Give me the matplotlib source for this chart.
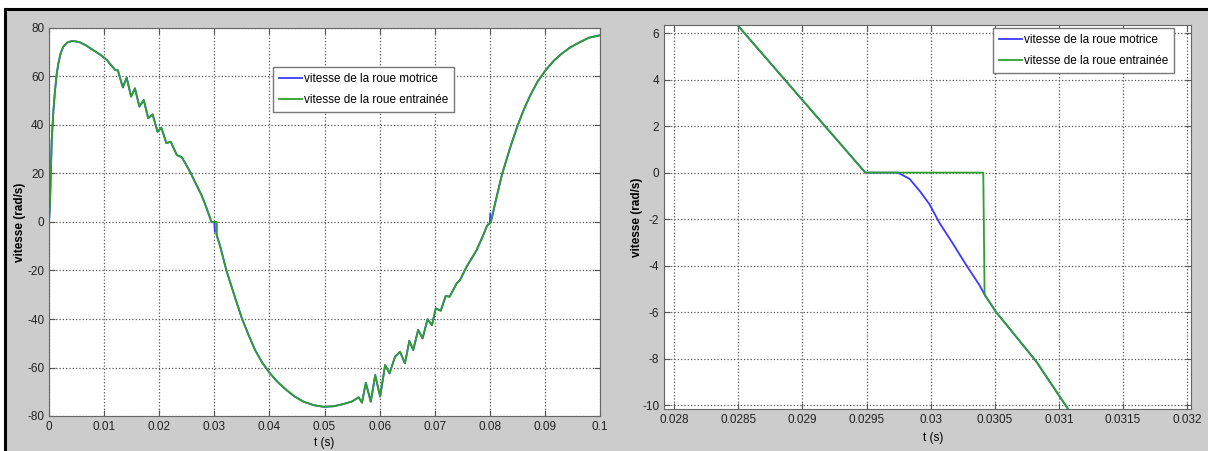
import numpy as np
import matplotlib
matplotlib.use("Agg")
import matplotlib.pyplot as plt
from matplotlib.patches import Rectangle
from matplotlib.ticker import FuncFormatter

plt.rcParams['font.family'] = ['Liberation Sans', 'DejaVu Sans']
fs = 8.5

# left panel: full run, driven wheel (green)
t_driven = [0, 0.0002, 0.0005, 0.0008, 0.0011, 0.0014, 0.0017, 0.0021, 0.0026,
            0.0033, 0.0041, 0.0048, 0.0056, 0.0068, 0.008, 0.0093, 0.0105,
            0.012, 0.0125, 0.0134, 0.0141, 0.0149, 0.0156, 0.0164,
            0.0172, 0.018, 0.0188, 0.0197, 0.0204, 0.0213, 0.0221, 0.0232,
            0.0241, 0.0248, 0.0256, 0.0266, 0.0277, 0.0285, 0.02949, 0.0304,
            0.03042, 0.0311, 0.0322, 0.0336, 0.035, 0.0362, 0.0374, 0.0387,
            0.0401, 0.0415, 0.0431, 0.0446, 0.0462, 0.048, 0.0498, 0.0516,
            0.0534, 0.055, 0.0562, 0.0568, 0.0575, 0.0584, 0.0592, 0.0601,
            0.061, 0.0618, 0.0628, 0.0637, 0.0646, 0.0654, 0.0661, 0.067,
            0.0678, 0.0687, 0.0695, 0.0702, 0.0711, 0.072, 0.0727, 0.074,
            0.0746, 0.0758, 0.0767, 0.0776, 0.0788, 0.0795, 0.0802, 0.0811,
            0.0822, 0.0836, 0.085, 0.0862, 0.0874, 0.0887, 0.0901, 0.0916,
            0.0931, 0.0946, 0.0962, 0.098, 0.1]
v_driven = [0, 9.1, 33.8, 46.0, 54.4, 61.0, 65.4, 69.5, 72.3,
            74.0, 74.6, 74.5, 74.1, 72.7, 70.9, 69.0, 66.8,
            62.7, 62.5, 55.5, 59.5, 51.7, 55.1, 47.6,
            50.3, 42.8, 44.4, 37.2, 38.9, 32.5, 33.1, 27.6,
            26.7, 24.0, 20.7, 16.0, 11.0, 6.3, 0, 0,
            -5.3, -10.3, -20.0, -30.0, -39.7, -46.5, -52.8, -58.0,
            -62.4, -66.0, -69.3, -72.0, -74.1, -75.5, -76.2, -76.0,
            -75.1, -74.0, -72.3, -74.5, -66.3, -74.1, -63.1, -72.0,
            -59.0, -62.4, -55.6, -53.5, -58.3, -49.0, -52.8, -44.5,
            -48.0, -40.1, -42.5, -35.6, -36.6, -30.5, -30.8, -25.3,
            -23.9, -18.4, -15.0, -11.6, -5.5, -1.5, 0, 9.0,
            19.5, 30.0, 39.5, 46.5, 52.5, 58.0, 62.5, 66.5,
            69.5, 72.0, 74.0, 76.0, 77.0]

# small blue segments that stick out of the green curve
spike_t = [[0, 0.0001], [0.0300, 0.0301], [0.0800, 0.0801]]
spike_v = [[0, 8.0], [0, -4.0], [0, 3.5]]

# right panel: zoom around the first zero crossing
t_motor_zoom = [0.0285, 0.02949, 0.029744, 0.029835, 0.029913, 0.02999,
                0.030068, 0.03017, 0.030276, 0.03038, 0.030426, 0.03051,
                0.03082, 0.031093, 0.03115]
v_motor_zoom = [6.3, 0, 0, -0.27, -0.78, -1.36,
                -2.16, -3.03, -3.97, -4.84, -5.3, -6.0,
                -8.1, -10.35, -10.8]
t_driven_zoom = [0.0285, 0.02949, 0.03041, 0.03042, 0.030426, 0.03051,
                 0.03082, 0.031093, 0.03115]
v_driven_zoom = [6.3, 0, 0, -5.2, -5.3, -6.0,
                 -8.1, -10.35, -10.8]

blue = '#3a3aff'
green = '#2ea02e'
fmt = FuncFormatter(lambda x, pos: '%g' % round(x, 6))


def style(ax):
    ax.set_facecolor('white')
    ax.grid(True, linestyle=':', color='#555555', linewidth=0.9)
    ax.tick_params(direction='in', top=True, right=True, labelsize=fs,
                   labelcolor='#222222', color='#555555', length=4)
    for s in ax.spines.values():
        s.set_color('#666666')
    ax.xaxis.set_major_formatter(fmt)
    ax.yaxis.set_major_formatter(fmt)


def add_legend(ax, anchor):
    ax.legend(loc='upper left', bbox_to_anchor=anchor, fontsize=fs,
              fancybox=False, edgecolor='#777777', framealpha=1,
              handlelength=2.0, borderpad=0.5, labelspacing=0.8,
              handletextpad=0.1, borderaxespad=0)


fig = plt.figure(figsize=(12.08, 4.51), dpi=100)
fig.patch.set_facecolor('white')
fig.patches.append(Rectangle((5 / 1208, -0.1), 1.2, 1 - 9 / 451 + 0.1,
                             transform=fig.transFigure, facecolor='#cccccc',
                             edgecolor='black', linewidth=2.2, zorder=-10))

ax1 = fig.add_axes([49 / 1208, 1 - 416 / 451, 551 / 1208, 388 / 451])
style(ax1)
ax1.plot(t_driven, v_driven, color=blue, linewidth=1.3,
         label='vitesse de la roue motrice')
for st, sv in zip(spike_t, spike_v):
    ax1.plot(st, sv, color=blue, linewidth=1.3)
ax1.plot(t_driven, v_driven, color=green, linewidth=1.3,
         label='vitesse de la roue entrainée')
ax1.set_xlim(0, 0.1)
ax1.set_ylim(-80, 80)
ax1.set_xticks(np.arange(0, 0.1001, 0.01))
ax1.set_yticks(np.arange(-80, 81, 20))
ax1.set_xlabel('t (s)', fontsize=fs, labelpad=3)
ax1.set_ylabel('vitesse (rad/s)', fontsize=fs, fontweight='bold')
ax1.yaxis.set_label_coords(-0.042, 0.5)
add_legend(ax1, (0.4065, 0.8995))

ax2 = fig.add_axes([664 / 1208, 1 - 409 / 451, 527 / 1208, 384 / 451])
style(ax2)
ax2.plot(t_motor_zoom, v_motor_zoom, color=blue, linewidth=1.3,
         label='vitesse de la roue motrice')
ax2.plot(t_driven_zoom, v_driven_zoom, color=green, linewidth=1.3,
         label='vitesse de la roue entrainée')
ax2.set_xlim(0.02792, 0.03203)
ax2.set_ylim(-10.17, 6.35)
ax2.set_xticks(np.arange(0.028, 0.03201, 0.0005))
ax2.set_yticks(np.arange(-10, 7, 2))
ax2.set_xlabel('t (s)', fontsize=fs)
ax2.xaxis.set_label_coords(0.51, -0.06)
ax2.set_ylabel('vitesse (rad/s)', fontsize=fs, fontweight='bold')
ax2.yaxis.set_label_coords(-0.04, 0.5)
add_legend(ax2, (0.624, 0.992))

fig.savefig('out.png', dpi=100)
